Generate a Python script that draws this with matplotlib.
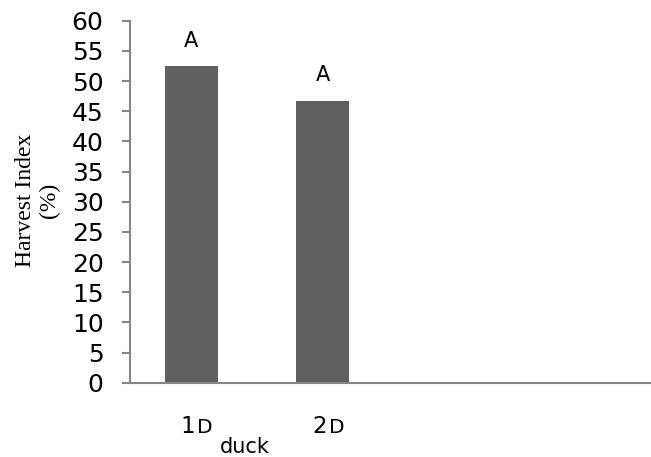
import matplotlib
matplotlib.use("Agg")
import matplotlib.pyplot as plt

# data
categories = ["1", "2"]
suffix = "D"
values = [52.5, 46.7]
letters = ["A", "A"]
ylabel = "Harvest Index\n(%)"
sub_label = "duck"
yticks = list(range(0, 61, 5))

W, H = 651, 457
fig = plt.figure(figsize=(W / 100, H / 100), dpi=100)
ax = fig.add_axes([130 / W, 1 - 382.7 / H, 1 - 130 / W, (382.7 - 20.7) / H])

bar_color = "#606060"
axis_color = "#868686"
sans = "DejaVu Sans"

x = list(range(len(values)))
ax.bar(x, values, width=0.4, color=bar_color, zorder=2)
ax.set_xlim(-0.468, 3.5)
ax.set_ylim(0, 60)
ax.set_yticks(yticks)
ax.set_yticklabels([str(t) for t in yticks], fontfamily=sans, fontsize=18)
ax.tick_params(axis="y", length=6, width=1.5, color=axis_color, pad=13)
ax.set_xticks([])

for s in ["top", "right"]:
    ax.spines[s].set_visible(False)
for s in ["left", "bottom"]:
    ax.spines[s].set_color(axis_color)
    ax.spines[s].set_linewidth(1.5)

# letters above bars
for xi, v, l in zip(x, values, letters):
    ax.annotate(l, xy=(xi, v), xytext=(0, 14), textcoords="offset points",
                ha="center", va="baseline", fontsize=15, fontfamily=sans)

# category labels
for xi, c in zip(x, categories):
    ax.annotate(c, xy=(xi, 0), xycoords=("data", "axes fraction"),
                xytext=(2.7, -36.4), textcoords="offset points",
                ha="right", va="baseline", fontsize=16.5, fontfamily=sans,
                annotation_clip=False)
    ax.annotate(suffix, xy=(xi, 0), xycoords=("data", "axes fraction"),
                xytext=(4.2, -36.4), textcoords="offset points",
                ha="left", va="baseline", fontsize=14.5, fontfamily=sans,
                annotation_clip=False)

ax.annotate(sub_label, xy=(0, 0), xycoords=("data", "axes fraction"),
            xytext=(38.5, -50.4), textcoords="offset points",
            ha="center", va="baseline", fontsize=15, fontfamily=sans,
            annotation_clip=False)

fig.text(37.5 / W, 1 - 200 / H, ylabel, rotation=90, ha="center", va="center",
         fontfamily="Liberation Serif", fontsize=17, multialignment="center")

fig.savefig("out.png", dpi=100)
